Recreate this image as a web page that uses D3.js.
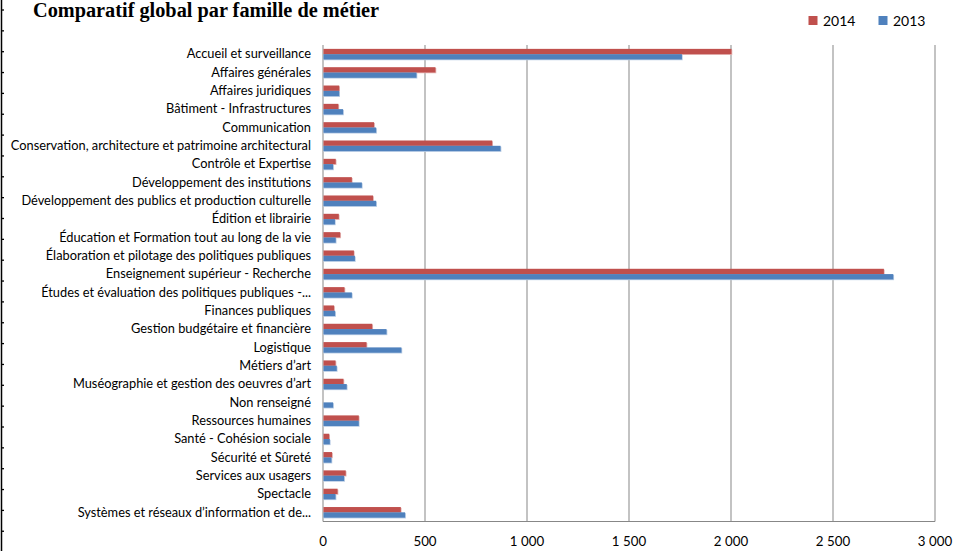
<!DOCTYPE html>
<html>
<head>
<meta charset="utf-8">
<script src="https://cdn.jsdelivr.net/npm/d3@7"></script>
<style>
  html, body { margin: 0; padding: 0; background: #fff; }
  svg { display: block; }
</style>
</head>
<body>
<svg id="chart" width="955" height="551"></svg>
<script>
// Job families, in display order (top to bottom)
const categories = [
  "Accueil et surveillance",
  "Affaires générales",
  "Affaires juridiques",
  "Bâtiment - Infrastructures",
  "Communication",
  "Conservation, architecture et patrimoine architectural",
  "Contrôle et Expertise",
  "Développement des institutions",
  "Développement des publics et production culturelle",
  "Édition et librairie",
  "Éducation et Formation tout au long de la vie",
  "Élaboration et pilotage des politiques publiques",
  "Enseignement supérieur - Recherche",
  "Études et évaluation des politiques publiques -...",
  "Finances publiques",
  "Gestion budgétaire et financière",
  "Logistique",
  "Métiers d’art",
  "Muséographie et gestion des oeuvres d’art",
  "Non renseigné",
  "Ressources humaines",
  "Santé - Cohésion sociale",
  "Sécurité et Sûreté",
  "Services aux usagers",
  "Spectacle",
  "Systèmes et réseaux d’information et de..."
];

const values2014 = [2000, 549, 77, 73, 248, 827, 60, 139, 243, 75, 82, 149, 2747, 103, 52, 239, 211, 59, 98, 0, 173, 28, 42, 109, 69, 379];
const values2013 = [1757, 456, 77, 96, 258, 868, 47, 188, 258, 56, 60, 154, 2793, 139, 57, 309, 382, 65, 114, 47, 173, 31, 39, 101, 59, 400];

const seriesNames = ["2014", "2013"];
const seriesColors = ["#C0504D", "#4F81BD"];
const shadowColors = ["#E6B9B8", "#B9CDE5"];
const xTicks = [0, 500, 1000, 1500, 2000, 2500, 3000];

const svg = d3.select("#chart");
const plot = { left: 323, right: 935, top: 45, bottom: 521.5 };
const labelFont = "Lato, 'Open Sans', sans-serif";

const x = d3.scaleLinear().domain([0, 3000]).range([plot.left, plot.right]);
const y = d3.scaleBand().domain(categories).range([plot.top, plot.bottom]).paddingInner(0).paddingOuter(0);
const barH = 5.3;

// Row-border rule with small ticks along the left edge
svg.append("line")
  .attr("x1", 1.5).attr("x2", 1.5).attr("y1", 0).attr("y2", 551)
  .attr("stroke", "#000").attr("stroke-width", 1.5);
svg.append("g").selectAll("line")
  .data(d3.range(10, 545, 20.85))
  .join("line")
  .attr("x1", 1).attr("x2", 4)
  .attr("y1", d => d).attr("y2", d => d)
  .attr("stroke", "#000").attr("stroke-width", 1.3);

// Title
svg.append("text")
  .attr("x", 33).attr("y", 17)
  .attr("font-family", "'Liberation Serif', 'Times New Roman', serif")
  .attr("font-weight", "bold")
  .attr("font-size", 20.3)
  .attr("fill", "#000")
  .text("Comparatif global par famille de métier");

// Vertical gridlines
svg.append("g").selectAll("line")
  .data(xTicks.slice(1))
  .join("line")
  .attr("x1", d => x(d)).attr("x2", d => x(d))
  .attr("y1", plot.top).attr("y2", plot.bottom)
  .attr("stroke", "#878787").attr("stroke-width", 1);

// Bottom axis line and left axis line
svg.append("line")
  .attr("x1", plot.left).attr("x2", plot.right)
  .attr("y1", plot.bottom).attr("y2", plot.bottom)
  .attr("stroke", "#878787");
svg.append("line")
  .attr("x1", plot.left).attr("x2", plot.left)
  .attr("y1", plot.top).attr("y2", plot.bottom)
  .attr("stroke", "#878787");

// X tick labels
svg.append("g").selectAll("text")
  .data(xTicks)
  .join("text")
  .attr("x", d => x(d))
  .attr("y", 546)
  .attr("text-anchor", "middle")
  .attr("font-family", labelFont)
  .attr("font-size", 13.3)
  .attr("fill", "#000")
  .text(d => d3.format(",")(d).replace(/,/g, " "));

// Category labels
svg.append("g").selectAll("text")
  .data(categories)
  .join("text")
  .attr("x", 311)
  .attr("y", d => y(d) + y.bandwidth() / 2 + 4.3)
  .attr("text-anchor", "end")
  .attr("font-family", labelFont)
  .attr("font-size", 12.8)
  .attr("fill", "#000")
  .text(d => d);

// Bars: 2014 above, 2013 below
const seriesData = [values2014, values2013];
seriesData.forEach((vals, si) => {
  const g = svg.append("g");
  const rows = categories.map((c, i) => ({ c, v: vals[i] })).filter(d => d.v > 0);
  const yOff = d => y(d.c) + y.bandwidth() / 2 - barH + si * barH;
  // soft halo
  g.selectAll("rect.halo")
    .data(rows)
    .join("rect")
    .attr("class", "halo")
    .attr("x", x(0) + 0.5)
    .attr("y", d => yOff(d) + 0.8)
    .attr("width", d => x(d.v) - x(0) + 0.8)
    .attr("height", barH)
    .attr("fill", shadowColors[si]);
  g.selectAll("rect.bar")
    .data(rows)
    .join("rect")
    .attr("class", "bar")
    .attr("x", x(0) + 0.5)
    .attr("y", d => yOff(d))
    .attr("width", d => x(d.v) - x(0))
    .attr("height", barH)
    .attr("fill", seriesColors[si]);
});

// Legend
const legend = svg.append("g").selectAll("g")
  .data(seriesNames)
  .join("g")
  .attr("transform", (d, i) => `translate(${808.5 + i * 70},0)`);
legend.append("rect")
  .attr("x", 0).attr("y", 16).attr("width", 9).attr("height", 9)
  .attr("fill", (d, i) => seriesColors[i]);
legend.append("text")
  .attr("x", 14.5).attr("y", 26)
  .attr("font-family", labelFont)
  .attr("font-size", 14)
  .attr("fill", "#000")
  .text(d => d);
</script>
</body>
</html>
